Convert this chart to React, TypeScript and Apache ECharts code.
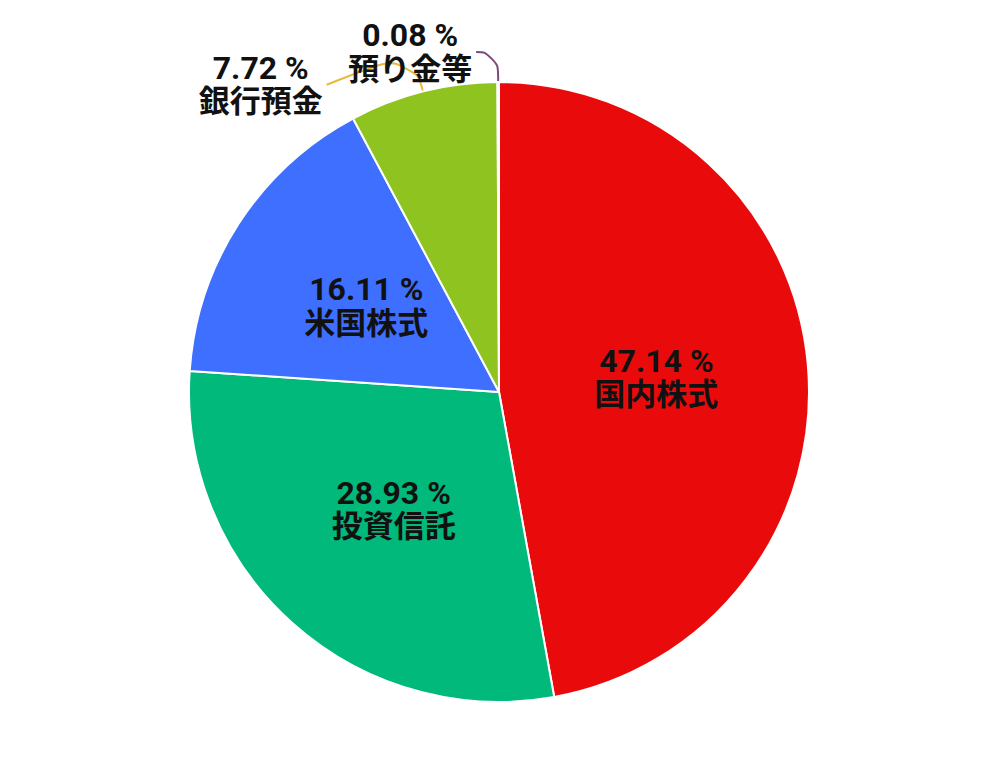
import React, { useEffect, useRef } from "react";
import * as echarts from "echarts";

const categories = ["国内株式", "投資信託", "米国株式", "銀行預金", "預り金等"];
const values = [47.14, 28.93, 16.11, 7.72, 0.08];
const colors = ["#E90B0B", "#00B97A", "#3F6FFF", "#8FC31F", "#7B3F7B"];
const lineColors = ["#E90B0B", "#00B97A", "#3F6FFF", "#E8B83A", "#7B4A7A"];
const outside = [false, false, false, true, true];
const lineLength = [0, 0, 0, 42, 30];
const lineLength2 = [0, 0, 0, 86, 22];
const labelShiftY = [0, 0, 0, 34, 0];

export default function App() {
  const ref = useRef<HTMLDivElement>(null);
  useEffect(() => {
    document.body.style.margin = "0";
    const chart = echarts.init(ref.current!, null, { renderer: "svg" });
    const data = categories.map((name, i) => ({
      name,
      value: values[i],
      itemStyle: { color: colors[i] },
      label: outside[i]
        ? { position: "outside" as const }
        : { position: "inside" as const },
      labelLine: outside[i]
        ? {
            show: true,
            length: lineLength[i],
            length2: lineLength2[i],
            smooth: 0.6,
            lineStyle: { color: lineColors[i], width: 2 },
          }
        : { show: false },
    }));
    const txt = {
      color: "#111111",
      fontSize: 31,
      fontWeight: "bold" as const,
      lineHeight: 34,
      fontFamily: "Roboto, 'Noto Sans CJK JP', sans-serif",
      align: "center" as const,
    };
    chart.setOption({
      animation: false,
      backgroundColor: "#ffffff",
      series: [
        {
          type: "pie",
          center: [499, 392],
          radius: 310,
          startAngle: 90,
          clockwise: true,
          avoidLabelOverlap: false,
          itemStyle: { borderColor: "#ffffff", borderWidth: 2 },
          label: {
            show: true,
            ...txt,
            distanceToLabelLine: 4,
            formatter: (p: any) => `{n|${Number(p.value).toFixed(2)} %}\n{t|${p.name}}`,
            rich: { n: { ...txt, fontSize: 32 }, t: txt },
          },
          labelLayout: (params: any) => {
            const dy = labelShiftY[params.dataIndex];
            if (!dy || !params.labelLinePoints) return {};
            const pts = params.labelLinePoints;
            return {
              y: pts[2][1] + dy,
              labelLinePoints: [pts[0], pts[1], [pts[2][0], pts[2][1] + dy]],
            };
          },
          data,
        },
      ],
    });
    return () => chart.dispose();
  }, []);
  return <div ref={ref} style={{ width: 1000, height: 770 }} />;
}
